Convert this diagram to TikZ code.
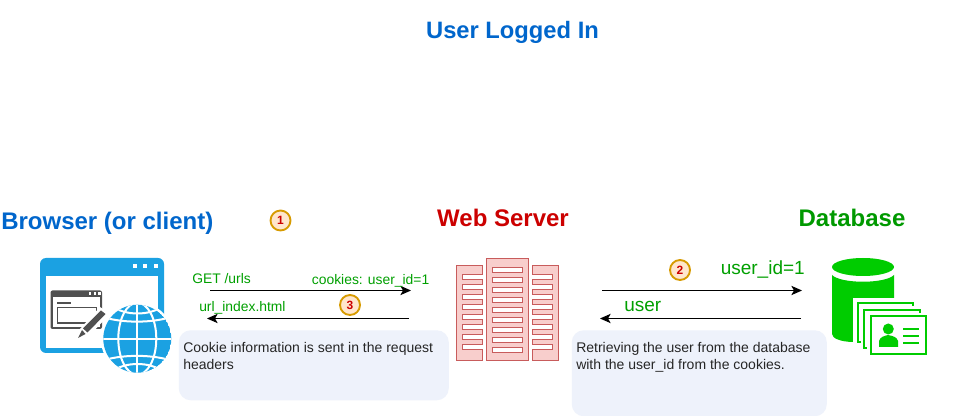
\documentclass[tikz,border=0pt]{standalone}
\usepackage{fontspec}
\setmainfont{Liberation Sans}
\usetikzlibrary{arrows.meta}
\definecolor{ttlblue}{HTML}{0066CC}
\definecolor{ttlred}{HTML}{CC0000}
\definecolor{ttlgreen}{HTML}{009900}
\definecolor{lblgreen}{HTML}{00A000}
\definecolor{bubble}{HTML}{EEF2FB}
\definecolor{winblue}{HTML}{1BA1E2}
\definecolor{wingray}{HTML}{505050}
\definecolor{srvfill}{HTML}{F8CECC}
\definecolor{srvline}{HTML}{C85C5C}
\definecolor{dbgreen}{HTML}{00CC00}
\definecolor{numfill}{HTML}{FFE6CC}
\definecolor{numline}{HTML}{D79B00}
\tikzset{
  x=0.75pt,y=-0.75pt,
  heading/.style={font=\bfseries\fontsize{18}{20}\selectfont,inner sep=0pt},
  lbl/.style={text=lblgreen,inner sep=0pt,font=\fontsize{10.4}{12}\selectfont},
  lblbig/.style={text=lblgreen,inner sep=0pt,font=\fontsize{14.25}{16}\selectfont},
  note/.style={fill=bubble,rounded corners=9pt,inner sep=0pt},
  notetext/.style={inner sep=0pt,align=left,anchor=north west,text=black!85,font=\fontsize{10.5}{12.75}\selectfont},
  num/.style={circle,draw=numline,fill=numfill,line width=1.4pt,minimum size=15pt,inner sep=0pt,text=ttlred,font=\bfseries\fontsize{9}{10}\selectfont},
  flow/.style={draw=black,line width=0.75pt,-{Stealth[length=8pt,width=7pt,inset=2pt]}},
  rack/.style={fill=srvfill,draw=srvline,line width=0.9pt},
  slot/.style={fill=white,draw=srvline,line width=0.7pt},
  grid/.style={white,line width=1.5pt},
  card/.style={fill=white,draw=dbgreen,line width=1.5pt},
}
\begin{document}
\begin{tikzpicture}
\useasboundingbox (0,0) rectangle (953,416);
\fill[white] (0,0) rectangle (953,416);

% headings
\node[heading,font=\bfseries\fontsize{17.8}{20}\selectfont,text=ttlblue,anchor=base] (title) at (512.5,38.5) {User Logged In};
\node[heading,text=ttlblue,anchor=base west] (browser) at (1,230) {Browser (or client)};
\node[heading,text=ttlred,anchor=base] (server) at (503,227) {Web Server};
\node[heading,text=ttlgreen,anchor=base] (database) at (852,227) {Database};

% notes
\node[note,minimum width=202.5pt,minimum height=52.5pt,anchor=north west] (noteA) at (178.5,330) {};
\node[note,minimum width=191.25pt,minimum height=64.5pt,anchor=north west] (noteB) at (571.5,330) {};
\node[notetext] (noteAt) at (183,342) {Cookie information is sent in the request\\headers};
\node[notetext] (noteBt) at (576,342) {Retrieving the user from the database\\with the user\_id from the cookies.};

% browser icon
\fill[winblue,rounded corners=4.5pt] (40,258) rectangle (164,353);
\fill[white] (46,276) rectangle (158,348);
\foreach \i in {135,145,156}{\fill[white] (\i-2.3,263.7) rectangle (\i+2.3,268.3);}
% small window
\fill[wingray,rounded corners=1.5pt] (50.5,290.5) rectangle (102,329);
\fill[white] (53,297.5) rectangle (100,327);
\foreach \i in {90,95,99.5}{\fill[white] (\i-1.2,292.3) rectangle (\i+1.2,294.8);}
\fill[wingray] (57,302.5) rectangle (71,303.7);
\draw[wingray,line width=1.1pt] (57.5,307.5) rectangle (96.5,323);
% pen
\fill[white] (76,341) -- (79,330) -- (100,307) -- (110,314) -- (88,337) -- cycle;
\fill[wingray] (83,328.5) -- (101,310.5) -- (105.5,314) -- (87.5,332.5) -- cycle;
\fill[wingray] (82,330) -- (78,338) -- (85.5,334) -- cycle;
% globe
\fill[white] (137.3,338.7) circle (36.5);
\begin{scope}
\clip (137.3,338.7) circle (34);
\fill[winblue] (137.3,338.7) circle (34);
\draw[grid] (137.3,300) -- (137.3,378);
\draw[grid] (137.3,338.7) ellipse (19 and 36);
\draw[grid] (100,338.7) -- (175,338.7);
\draw[grid] (100,316) .. controls (120,323.5) and (154,323.5) .. (174,316);
\draw[grid] (100,361.5) .. controls (120,354) and (154,354) .. (174,361.5);
\draw[grid] (112,306) .. controls (125,316) and (150,316) .. (163,306);
\draw[grid] (112,371.5) .. controls (125,361.5) and (150,361.5) .. (163,371.5);
\end{scope}

% server icon
\draw[rack] (456.5,265.5) -- (482.5,265.5) -- (482.5,360.5) -- (456.5,360.5) -- cycle;
\draw[rack] (558.5,265.5) -- (532.5,265.5) -- (532.5,360.5) -- (558.5,360.5) -- cycle;
\draw[rack] (486.5,258.5) rectangle (528.5,360.5);
\foreach \k in {0,...,8}{\draw[slot] (492.5,267+10*\k) rectangle (522.5,272+10*\k);}
\foreach \k in {0,...,7}{
  \fill[white] (462.5,274+10*\k) rectangle (483,279+10*\k);
  \draw[srvline,line width=0.7pt] (483,274+10*\k) -- (462.5,274+10*\k) -- (462.5,279+10*\k) -- (483,279+10*\k);
  \fill[white] (532,274+10*\k) rectangle (552.5,279+10*\k);
  \draw[srvline,line width=0.7pt] (532,274+10*\k) -- (552.5,274+10*\k) -- (552.5,279+10*\k) -- (532,279+10*\k);
}

% database icon
\fill[dbgreen] (832,275) -- (832,334) .. controls (832,338) and (840,342) .. (854,342) -- (894,342) -- (894,275) .. controls (885,284) and (841,284) .. (832,275) -- cycle;
\fill[dbgreen] (863,267) ellipse (31 and 9);
\fill[white] (853,298) rectangle (897,344);
\draw[card] (858,303) rectangle (913,342);
\fill[white] (861,306) rectangle (923,351);
\draw[card] (864,310) rectangle (919.5,348);
\fill[white] (867,313) rectangle (929,357);
\draw[card] (871,316.5) rectangle (926,354);
\fill[dbgreen] (888.3,329) circle (5.5);
\fill[dbgreen] (879,347) -- (879,341) .. controls (880,337) and (884,336) .. (888,335) .. controls (893,336) and (897,337) .. (898,341) -- (898,347) -- cycle;
\foreach \yy in {329,336,343}{\fill[dbgreen] (903,\yy-1) rectangle (919,\yy+1);}

% connectors
\coordinate (a1s) at (210,290.5); \coordinate (a1e) at (411,290.5);
\coordinate (a2s) at (409,318.5); \coordinate (a2e) at (207,318.5);
\coordinate (b1s) at (602,290.5); \coordinate (b1e) at (802,290.5);
\coordinate (b2s) at (801,318.5); \coordinate (b2e) at (600,318.5);
\draw[flow] (a1s) -- (a1e);
\draw[flow] (a2s) -- (a2e);
\draw[flow] (b1s) -- (b1e);
\draw[flow] (b2s) -- (b2e);

% labels
\node[lbl,anchor=base west] (get) at (192,284) {GET /urls};
\node[lbl,anchor=base east] (cookies) at (429.5,284.5) {cookies: user\_id=1};
\node[lbl,anchor=base west] (urlidx) at (199,312) {url\_index.html};
\node[lblbig,anchor=base east] (uid) at (805,275) {user\_id=1};
\node[lblbig,anchor=base west] (user) at (624,312) {user};

% numbers
\node[num] (n1) at (280.5,220.5) {1};
\node[num] (n2) at (680,270) {2};
\node[num] (n3) at (350,305) {3};
\end{tikzpicture}
\end{document}
